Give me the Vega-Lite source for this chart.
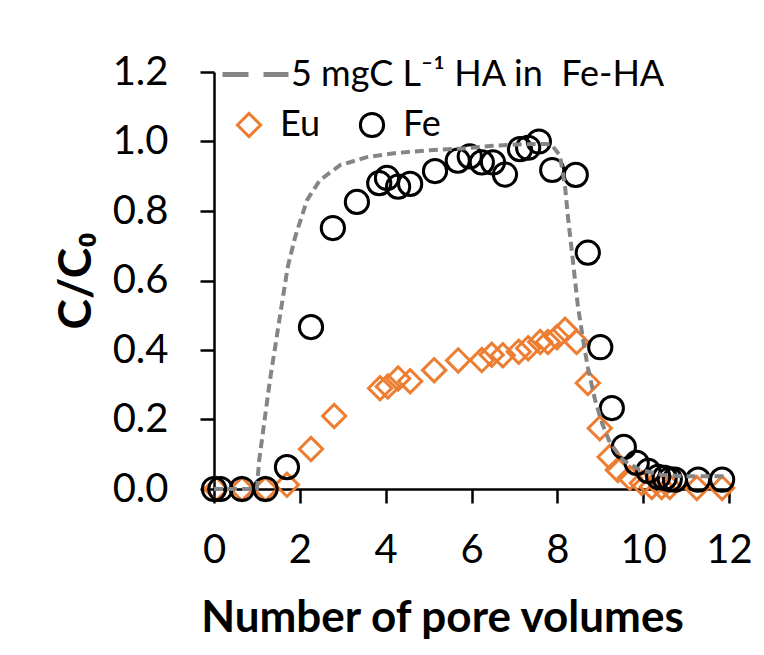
{
  "$schema": "https://vega.github.io/schema/vega-lite/v6.json",
  "autosize": {"type": "none"},
  "width": 515,
  "height": 417,
  "padding": {"left": 214, "top": 72, "right": 35, "bottom": 166},
  "background": "white",
  "config": {
    "view": {"stroke": null},
    "font": "Lato",
    "axis": {"grid": false, "domainColor": "black", "tickColor": "black", "domainWidth": 2.5, "tickWidth": 2.5, "tickSize": 14, "labelColor": "black", "titleColor": "black", "labelFont": "Lato", "titleFont": "Lato", "labelFontSize": 40, "titleFontSize": 44, "titleFontWeight": "bold", "labelFlush": false},
    "legend": {"labelFont": "Lato", "labelFontSize": 36, "labelColor": "black", "padding": 0, "labelLimit": 600}
  },
  "datasets": {
    "pts": [
      {"pv": 0.05, "c": 0.0, "element": "Eu"},
      {"pv": 0.65, "c": 0.0, "element": "Eu"},
      {"pv": 1.2, "c": 0.0, "element": "Eu"},
      {"pv": 1.7, "c": 0.012, "element": "Eu"},
      {"pv": 2.26, "c": 0.115, "element": "Eu"},
      {"pv": 2.8, "c": 0.21, "element": "Eu"},
      {"pv": 3.87, "c": 0.29, "element": "Eu"},
      {"pv": 4.05, "c": 0.295, "element": "Eu"},
      {"pv": 4.29, "c": 0.318, "element": "Eu"},
      {"pv": 4.57, "c": 0.31, "element": "Eu"},
      {"pv": 5.13, "c": 0.342, "element": "Eu"},
      {"pv": 5.69, "c": 0.37, "element": "Eu"},
      {"pv": 6.24, "c": 0.371, "element": "Eu"},
      {"pv": 6.47, "c": 0.386, "element": "Eu"},
      {"pv": 6.73, "c": 0.385, "element": "Eu"},
      {"pv": 7.1, "c": 0.395, "element": "Eu"},
      {"pv": 7.32, "c": 0.405, "element": "Eu"},
      {"pv": 7.6, "c": 0.423, "element": "Eu"},
      {"pv": 7.78, "c": 0.423, "element": "Eu"},
      {"pv": 7.99, "c": 0.437, "element": "Eu"},
      {"pv": 8.18, "c": 0.458, "element": "Eu"},
      {"pv": 8.45, "c": 0.423, "element": "Eu"},
      {"pv": 8.71, "c": 0.305, "element": "Eu"},
      {"pv": 8.99, "c": 0.175, "element": "Eu"},
      {"pv": 9.22, "c": 0.092, "element": "Eu"},
      {"pv": 9.41, "c": 0.055, "element": "Eu"},
      {"pv": 9.69, "c": 0.032, "element": "Eu"},
      {"pv": 9.97, "c": 0.017, "element": "Eu"},
      {"pv": 10.2, "c": 0.006, "element": "Eu"},
      {"pv": 10.43, "c": 0.006, "element": "Eu"},
      {"pv": 10.62, "c": 0.006, "element": "Eu"},
      {"pv": 11.25, "c": 0.003, "element": "Eu"},
      {"pv": 11.84, "c": 0.003, "element": "Eu"},
      {"pv": 0.0, "c": 0.0, "element": "Fe"},
      {"pv": 0.15, "c": 0.0, "element": "Fe"},
      {"pv": 0.65, "c": 0.0, "element": "Fe"},
      {"pv": 1.2, "c": 0.0, "element": "Fe"},
      {"pv": 1.7, "c": 0.063, "element": "Fe"},
      {"pv": 2.26, "c": 0.466, "element": "Fe"},
      {"pv": 2.77, "c": 0.751, "element": "Fe"},
      {"pv": 3.33, "c": 0.826, "element": "Fe"},
      {"pv": 3.85, "c": 0.88, "element": "Fe"},
      {"pv": 4.03, "c": 0.895, "element": "Fe"},
      {"pv": 4.29, "c": 0.87, "element": "Fe"},
      {"pv": 4.57, "c": 0.878, "element": "Fe"},
      {"pv": 5.15, "c": 0.915, "element": "Fe"},
      {"pv": 5.68, "c": 0.945, "element": "Fe"},
      {"pv": 5.96, "c": 0.957, "element": "Fe"},
      {"pv": 6.24, "c": 0.94, "element": "Fe"},
      {"pv": 6.5, "c": 0.94, "element": "Fe"},
      {"pv": 6.78, "c": 0.905, "element": "Fe"},
      {"pv": 7.13, "c": 0.978, "element": "Fe"},
      {"pv": 7.32, "c": 0.982, "element": "Fe"},
      {"pv": 7.57, "c": 1.0, "element": "Fe"},
      {"pv": 7.88, "c": 0.918, "element": "Fe"},
      {"pv": 8.43, "c": 0.904, "element": "Fe"},
      {"pv": 8.71, "c": 0.68, "element": "Fe"},
      {"pv": 9.0, "c": 0.408, "element": "Fe"},
      {"pv": 9.27, "c": 0.233, "element": "Fe"},
      {"pv": 9.55, "c": 0.121, "element": "Fe"},
      {"pv": 9.85, "c": 0.075, "element": "Fe"},
      {"pv": 10.12, "c": 0.052, "element": "Fe"},
      {"pv": 10.35, "c": 0.035, "element": "Fe"},
      {"pv": 10.5, "c": 0.032, "element": "Fe"},
      {"pv": 10.62, "c": 0.028, "element": "Fe"},
      {"pv": 10.74, "c": 0.027, "element": "Fe"},
      {"pv": 11.28, "c": 0.027, "element": "Fe"},
      {"pv": 11.84, "c": 0.027, "element": "Fe"}
    ],
    "ha": [
      {"pv": 0.0, "c": 0.0}, {"pv": 0.5, "c": 0.0}, {"pv": 1.0, "c": 0.0},
      {"pv": 1.05, "c": 0.08}, {"pv": 1.3, "c": 0.31}, {"pv": 1.54, "c": 0.5},
      {"pv": 1.72, "c": 0.64}, {"pv": 1.89, "c": 0.725}, {"pv": 2.17, "c": 0.832},
      {"pv": 2.47, "c": 0.889}, {"pv": 2.94, "c": 0.932}, {"pv": 3.56, "c": 0.955},
      {"pv": 4.26, "c": 0.967}, {"pv": 5.03, "c": 0.975}, {"pv": 5.8, "c": 0.98},
      {"pv": 6.5, "c": 0.988}, {"pv": 7.2, "c": 0.992}, {"pv": 7.85, "c": 0.993},
      {"pv": 8.06, "c": 0.96}, {"pv": 8.18, "c": 0.87}, {"pv": 8.25, "c": 0.78},
      {"pv": 8.36, "c": 0.66}, {"pv": 8.48, "c": 0.525}, {"pv": 8.6, "c": 0.43},
      {"pv": 8.71, "c": 0.35}, {"pv": 8.88, "c": 0.256}, {"pv": 9.04, "c": 0.19},
      {"pv": 9.23, "c": 0.132}, {"pv": 9.53, "c": 0.083}, {"pv": 9.92, "c": 0.055},
      {"pv": 10.46, "c": 0.04}, {"pv": 10.93, "c": 0.037}, {"pv": 11.95, "c": 0.037}
    ]
  },
  "encoding": {
    "x": {"field": "pv", "type": "quantitative", "scale": {"domain": [0, 12], "nice": false, "zero": false},
      "axis": {"title": "Number of pore volumes", "values": [0, 2, 4, 6, 8, 10, 12], "labelPadding": 27, "titlePadding": 26, "titleX": 228}},
    "y": {"field": "c", "type": "quantitative", "scale": {"domain": [0, 1.2], "nice": false},
      "axis": {"title": "C/C₀", "titleFontSize": 46, "values": [0, 0.2, 0.4, 0.6, 0.8, 1.0, 1.2], "format": ".1f", "labelPadding": 32, "titlePadding": 12}}
  },
  "layer": [
    {
      "data": {"name": "pts"},
      "mark": {"type": "point", "filled": false, "strokeWidth": 3, "size": 540, "opacity": 1, "clip": false},
      "encoding": {
        "color": {"field": "element", "type": "nominal", "scale": {"domain": ["Eu", "Fe"], "range": ["#ED7D31", "#000000"]},
          "legend": {"title": null, "orient": "none", "direction": "horizontal", "legendX": 17, "legendY": 35, "symbolSize": 540, "symbolStrokeWidth": 3, "symbolOpacity": 1, "labelOffset": 13, "columnPadding": 33}},
        "shape": {"field": "element", "type": "nominal", "scale": {"domain": ["Eu", "Fe"], "range": ["diamond", "circle"]}}
      }
    },
    {
      "data": {"name": "ha"},
      "mark": {"type": "line", "strokeWidth": 4, "strokeDash": [9, 5], "clip": false},
      "encoding": {
        "stroke": {"datum": "5 mgC L⁻¹ HA in\u00a0 Fe-HA", "type": "nominal", "scale": {"range": ["#858585"]},
          "legend": {"title": null, "orient": "none", "legendX": 6, "legendY": -33, "symbolType": "stroke", "symbolSize": 4356, "symbolStrokeWidth": 5, "symbolDash": [26, 15], "labelOffset": 0,
            "encode": {"symbols": {"update": {"strokeDash": {"value": [26, 15]}}}}}}
      }
    }
  ]
}
